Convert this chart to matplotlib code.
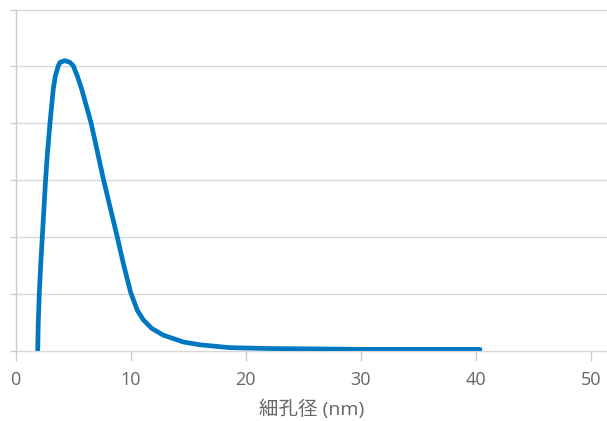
import numpy as np
import matplotlib.pyplot as plt

plt.rcParams['font.family'] = ['Open Sans', 'Noto Sans CJK JP', 'DejaVu Sans']

# pore size distribution
pore_nm = [1.93, 1.98, 2.07, 2.20, 2.33, 2.62, 2.76, 3.00, 3.28, 3.46, 3.72, 3.87,
           4.30, 4.73, 5.02, 5.37, 5.75, 6.56, 7.19, 7.63, 8.84, 9.37, 10.01,
           10.58, 11.10, 11.83, 12.84, 14.58, 16.03, 18.64, 22.0, 25.0, 30.0,
           35.0, 40.36]
volume = [0.01, 0.50, 1.02, 1.55, 2.00, 3.02, 3.43, 4.01, 4.60, 4.83, 5.01, 5.07,
          5.10, 5.07, 5.01, 4.83, 4.60, 4.01, 3.43, 3.02, 2.00, 1.53, 1.02,
          0.71, 0.54, 0.39, 0.27, 0.15, 0.10, 0.05, 0.035, 0.03, 0.02,
          0.02, 0.02]
xticks = [0, 10, 20, 30, 40, 50]
yticks = [0, 1, 2, 3, 4, 5, 6]

fig = plt.figure(figsize=(6.07, 4.21), dpi=100)
ax = fig.add_axes([15.5 / 607, (421 - 350.5) / 421, 1 - 15.5 / 607, 341 / 421])

ax.plot(pore_nm, volume, color='#0078c1', lw=3.4, solid_capstyle='round',
        solid_joinstyle='round', zorder=3)

ax.set_xlim(0, 51.4)
ax.set_ylim(0, 6)
ax.set_xticks(xticks)
ax.set_yticks(yticks)
ax.set_yticklabels([])
for y in yticks:
    ax.axhline(y, color='#d9d9d9', lw=1, zorder=1, clip_on=False)

for s in ['top', 'right', 'bottom']:
    ax.spines[s].set_visible(False)
ax.spines['left'].set_color('#cccccc')
ax.spines['left'].set_linewidth(1)

ax.tick_params(axis='x', length=7.5, width=1, color='#cccccc', pad=7,
               labelsize=13, labelcolor='#666666')
ax.tick_params(axis='y', length=4.5, width=1, color='#cccccc')

ax.set_xlabel('細孔径 (nm)', fontsize=14, color='#666666', labelpad=8)

plt.savefig('out.png', dpi=100)
